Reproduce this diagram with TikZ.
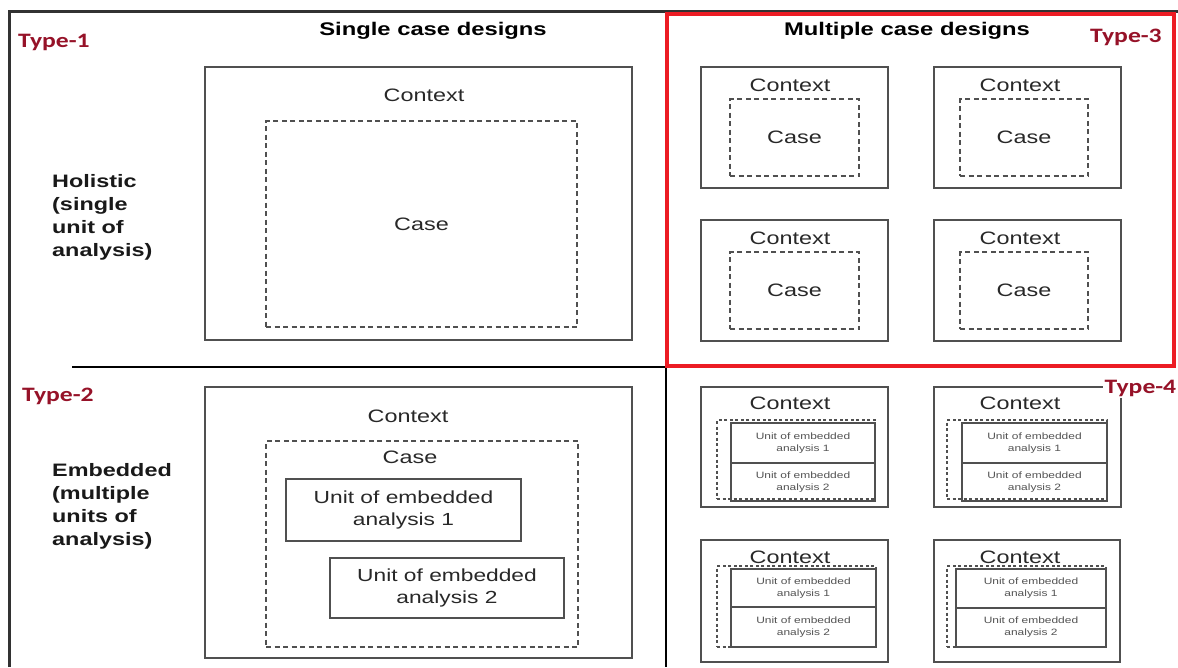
\documentclass[tikz,border=0pt]{standalone}
\usepackage{fontspec}
\setmainfont{Liberation Sans}[FakeStretch=1.3]
\newfontfamily\typefont{Carlito}[FakeStretch=1.25]
\definecolor{boxgray}{RGB}{80,80,80}
\definecolor{txtgray}{RGB}{40,40,40}
\definecolor{framegray}{RGB}{50,50,50}
\definecolor{typered}{RGB}{150,18,40}
\definecolor{framered}{RGB}{236,28,36}
\newcommand\bx[7][]{\node[#1, minimum width={(#5)-(#3)}, minimum height={(#6)-(#4)}] (#2) at ({((#3)+(#5))/2},{((#4)+(#6))/2}) {#7};}
\begin{document}
\begin{tikzpicture}[x=1pt,y=-1pt,
  ctx/.style={draw=boxgray, line width=1.8pt, inner sep=0pt, outer sep=0pt},
  casebox/.style={draw=boxgray, line width=1.8pt, dash pattern=on 5pt off 3.5pt, inner sep=0pt, outer sep=0pt, text=txtgray, font=\fontsize{18}{22}\selectfont},
  ubox/.style={draw=boxgray, line width=1.8pt, inner sep=0pt, outer sep=0pt, align=center, text=txtgray, font=\fontsize{17.5}{22}\selectfont},
  sbox/.style={draw=boxgray, line width=1.4pt, inner sep=0pt, outer sep=0pt, align=center, text=txtgray!80, font=\fontsize{9.2}{12}\selectfont},
  sdash/.style={draw=boxgray, line width=1.4pt, dash pattern=on 3pt off 2.5pt, inner sep=0pt, outer sep=0pt},
  lbl/.style={text=txtgray, font=\fontsize{18}{22}\selectfont, inner sep=0pt},
  head/.style={font=\bfseries\fontsize{18.3}{22}\selectfont, inner sep=0pt, anchor=base},
  rowlbl/.style={font=\bfseries\fontsize{18}{23}\selectfont, align=left, anchor=north west, inner sep=0pt, text=black!90},
  typelbl/.style={text=typered, font=\typefont\bfseries\fontsize{20.5}{24}\selectfont, inner sep=0pt, anchor=base west},
]
\useasboundingbox[fill=white] (0,0) rectangle (1178,667);
% outer frame
\draw[line width=3pt, framegray] (9,667) -- (9,11) -- (1178,11);
% dividers
\coordinate (hl) at (72,367);
\coordinate (cross) at (666,367);
\coordinate (vb) at (666,667);
\draw[line width=2.8pt, black] (hl) -- (cross) -- (vb);
% red frame
\bx[draw=framered, line width=4pt, inner sep=0pt, outer sep=0pt]{redbox}{667}{14}{1174}{366}{}
% headings
\node[head] (hsingle) at (433,35) {Single case designs};
\node[head] (hmulti) at (907,35) {Multiple case designs};
\node[rowlbl] (hol) at (52,174) {Holistic\\(single\\unit of\\analysis)};
\node[rowlbl] (emb) at (52,463) {Embedded\\(multiple\\units of\\analysis)};
% Type-1
\bx[ctx]{t1ctx}{205}{67}{632}{340}{}
\node[lbl] (t1ctxT) at (424,95) {Context};
\bx[casebox]{t1case}{266}{121}{577}{327}{Case}
% Type-2
\bx[ctx]{t2ctx}{205}{387}{632}{658}{}
\node[lbl] (t2ctxT) at (408,416) {Context};
\bx[casebox]{t2case}{266}{441}{578}{647}{}
\node[lbl] (t2caseT) at (410,457) {Case};
\bx[ubox]{t2u1}{286}{479}{521}{541}{Unit of embedded\\analysis 1}
\bx[ubox]{t2u2}{330}{558}{564}{618}{Unit of embedded\\analysis 2}
% Type-3
\bx[ctx]{t3a}{701}{67}{888}{188}{}
\node[lbl] (t3aT) at (790,85) {Context};
\bx[casebox]{t3ac}{730}{99}{859}{176}{Case}
\bx[ctx]{t3b}{934}{67}{1121}{188}{}
\node[lbl] (t3bT) at (1020,85) {Context};
\bx[casebox]{t3bc}{960}{99}{1088}{176}{Case}
\bx[ctx]{t3c}{701}{220}{888}{341}{}
\node[lbl] (t3cT) at (790,238) {Context};
\bx[casebox]{t3cc}{730}{252}{859}{329}{Case}
\bx[ctx]{t3d}{934}{220}{1121}{341}{}
\node[lbl] (t3dT) at (1020,238) {Context};
\bx[casebox]{t3dc}{960}{252}{1088}{329}{Case}
% Type-4
\bx[ctx]{t4a}{701}{387}{888}{507}{}
\node[lbl] (t4aT) at (790,403) {Context};
\bx[sdash]{t4ac}{717}{420}{875}{499}{}
\bx[sbox]{t4au1}{731}{423}{875}{463}{Unit of embedded\\analysis 1}
\bx[sbox]{t4au2}{731}{463}{875}{501}{Unit of embedded\\analysis 2}
\bx[ctx]{t4b}{934}{387}{1121}{507}{}
\node[lbl] (t4bT) at (1020,403) {Context};
\bx[sdash]{t4bc}{947}{420}{1107}{499}{}
\bx[sbox]{t4bu1}{962}{423}{1107}{463}{Unit of embedded\\analysis 1}
\bx[sbox]{t4bu2}{962}{463}{1107}{501}{Unit of embedded\\analysis 2}
\bx[ctx]{t4c}{701}{540}{888}{662}{}
\node[lbl] (t4cT) at (790,557) {Context};
\bx[sdash]{t4cc}{717}{566}{876}{647}{}
\bx[sbox]{t4cu1}{731}{569}{876}{607}{Unit of embedded\\analysis 1}
\bx[sbox]{t4cu2}{731}{607}{876}{647}{Unit of embedded\\analysis 2}
\bx[ctx]{t4d}{934}{540}{1120}{662}{}
\node[lbl] (t4dT) at (1020,557) {Context};
\bx[sdash]{t4dc}{947}{566}{1106}{647}{}
\bx[sbox]{t4du1}{956}{569}{1106}{608}{Unit of embedded\\analysis 1}
\bx[sbox]{t4du2}{956}{608}{1106}{647}{Unit of embedded\\analysis 2}
% type labels
\node[typelbl] (ty1) at (18,47) {Type-1};
\node[typelbl] (ty2) at (22,401) {Type-2};
\node[typelbl] (ty3) at (1090,42) {Type-3};
\node[typelbl, fill=white, inner sep=1.5pt] (ty4) at (1103,393) {Type-4};
\end{tikzpicture}
\end{document}
